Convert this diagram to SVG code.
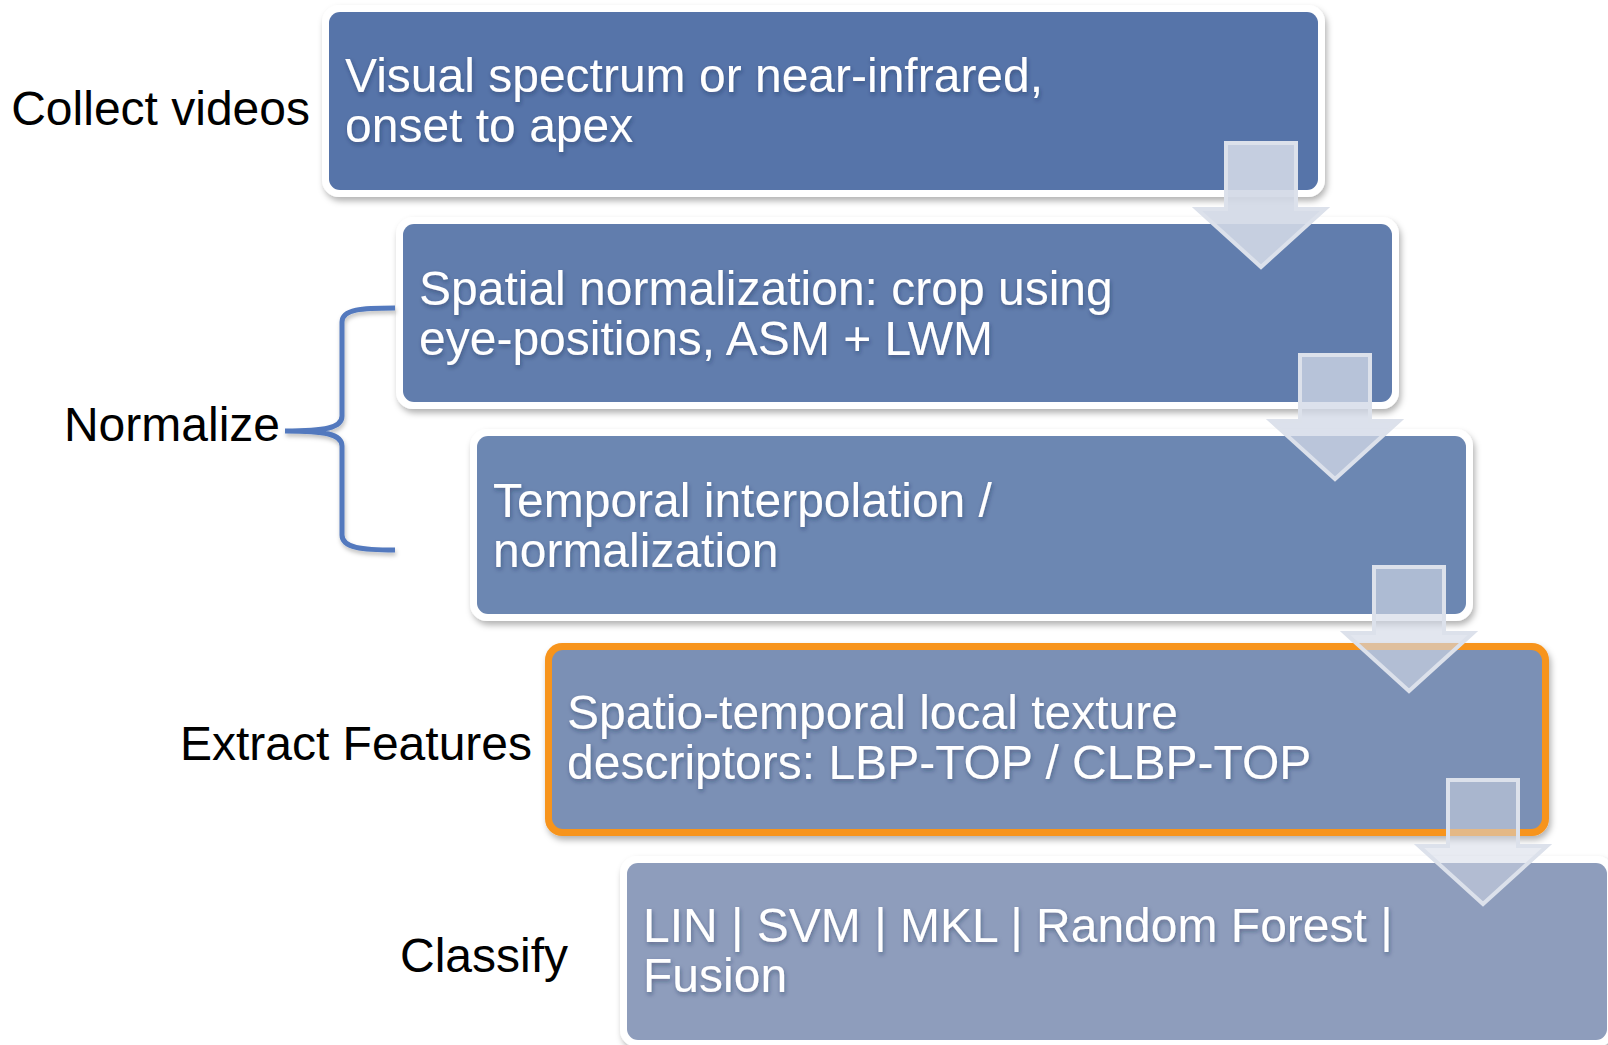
<svg xmlns="http://www.w3.org/2000/svg" width="1608" height="1045" viewBox="0 0 1608 1045">
<defs>
<filter id="bsh" x="-5%" y="-10%" width="110%" height="125%">
<feDropShadow dx="2" dy="4" stdDeviation="3" flood-color="#000" flood-opacity="0.3"/>
</filter>
<filter id="tsh" x="-5%" y="-20%" width="110%" height="150%">
<feDropShadow dx="1" dy="2.5" stdDeviation="2" flood-color="#1a2a4a" flood-opacity="0.4"/>
</filter>
<filter id="lsh" x="-20%" y="-10%" width="140%" height="120%">
<feDropShadow dx="1" dy="3" stdDeviation="2" flood-color="#000" flood-opacity="0.25"/>
</filter>
</defs>
<style>
.lbl{font-family:"Liberation Sans",Arial,sans-serif;font-size:48px;fill:#000;text-anchor:end}
.bt{font-family:"Liberation Sans",Arial,sans-serif;font-size:48px;fill:#fff;filter:url(#tsh)}
.frame{fill:#fff;filter:url(#bsh)}
.arr{fill:#D2D8E6;stroke:#DCE1EB;stroke-width:4;stroke-linejoin:miter}
</style>
<rect width="1608" height="1045" fill="#fff"/>

<g id="labels">
<text class="lbl" x="310" y="125">Collect videos</text>
<text class="lbl" x="280" y="441">Normalize</text>
<text class="lbl" x="532" y="760">Extract Features</text>
<text class="lbl" x="568" y="972">Classify</text>
</g>

<g id="node1">
<rect class="frame" x="322" y="5" width="1003" height="192" rx="17"/>
<rect x="329" y="12" width="989" height="178" rx="11" fill="#5674A9"/>
<text class="bt" x="345" y="92">Visual spectrum or near-infrared,</text>
<text class="bt" x="345" y="142">onset to apex</text>
</g>

<g id="node2">
<rect class="frame" x="396" y="217" width="1003" height="192" rx="17"/>
<rect x="403" y="224" width="989" height="178" rx="11" fill="#617DAD"/>
<text class="bt" x="419" y="305">Spatial normalization: crop using</text>
<text class="bt" x="419" y="355">eye-positions, ASM + LWM</text>
</g>

<g id="node3">
<rect class="frame" x="470" y="429" width="1003" height="192" rx="17"/>
<rect x="477" y="436" width="989" height="178" rx="11" fill="#6C87B2"/>
<text class="bt" x="493" y="517">Temporal interpolation /</text>
<text class="bt" x="493" y="567">normalization</text>
</g>

<g id="node4">
<rect x="545" y="643" width="1004" height="193" rx="17" fill="#F7941D" filter="url(#bsh)"/>
<rect x="552" y="650" width="990" height="179" rx="11" fill="#7B90B5"/>
<text class="bt" x="567" y="729">Spatio-temporal local texture</text>
<text class="bt" x="567" y="779">descriptors: LBP-TOP / CLBP-TOP</text>
</g>

<g id="node5">
<rect class="frame" x="620" y="856" width="994" height="191" rx="17"/>
<rect x="627" y="863" width="980" height="177" rx="11" fill="#8E9DBC"/>
<text class="bt" x="643" y="942">LIN | SVM | MKL | Random Forest |</text>
<text class="bt" x="643" y="992">Fusion</text>
</g>

<g id="connectors">
<path d="M395 308 C362 308 342 309 342 322 L342 416 C342 428 325 431 285 431 C325 431 342 434 342 446 L342 535 C342 548 362 550 395 550" fill="none" stroke="#5279BE" stroke-width="5" filter="url(#lsh)"/>
<polygon class="arr" fill-opacity="0.9" points="1226,143 1296,143 1296,209 1325,209 1261,267 1197,209 1226,209"/>
<polygon class="arr" fill-opacity="0.77" points="1300,355 1370,355 1370,421 1399,421 1335,479 1271,421 1300,421"/>
<polygon class="arr" fill-opacity="0.64" points="1374,567 1444,567 1444,633 1473,633 1409,691 1345,633 1374,633"/>
<polygon class="arr" fill-opacity="0.52" points="1448,780 1518,780 1518,846 1547,846 1483,904 1419,846 1448,846"/>
</g>
</svg>
